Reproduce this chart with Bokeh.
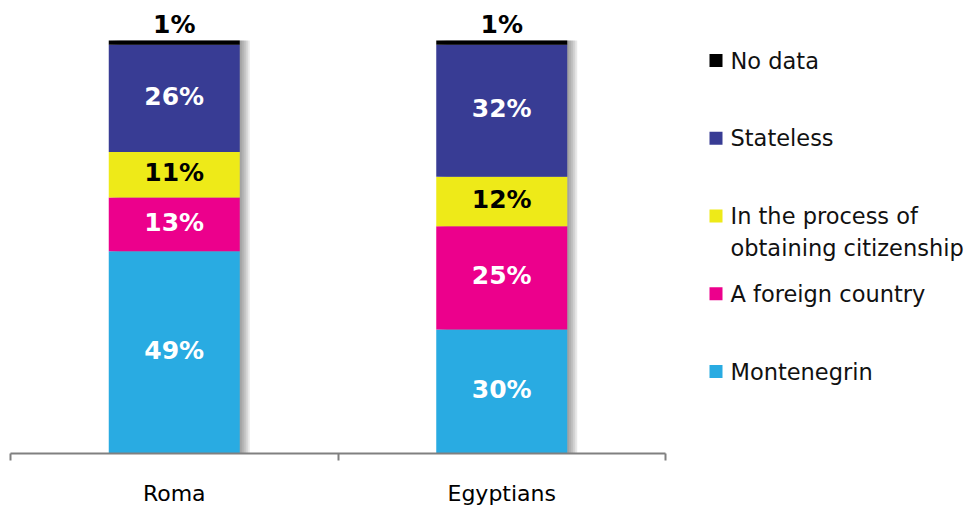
import numpy as np
from bokeh.plotting import figure
from bokeh.models import ColumnDataSource, Range1d, LinearAxis, FixedTicker
from bokeh.layouts import row
from bokeh.core.properties import value
from bokeh.embed import file_html
from bokeh.resources import INLINE

# ---------------- data ----------------
groups = ["Roma", "Egyptians"]
series_names = ["Montenegrin", "A foreign country",
                "In the process of\nobtaining citizenship", "Stateless", "No data"]
montenegrin = [49, 30]
foreign_country = [13, 25]
in_process = [11, 12]
stateless = [26, 32]
no_data = [1, 1]
series_values = [montenegrin, foreign_country, in_process, stateless, no_data]

# ---------------- style ----------------
colors = ["#29ABE2", "#EC008C", "#EEEA18", "#383C94", "#000000"]
label_colors = ["white", "white", "black", "white", "black"]
FONT = "DejaVu Sans"
TOP = 10
FRAME_W, FRAME_H = 655, 443
BAR_PX = 413          # pixel height of 100 %
BAR_W = 0.4

n = len(groups)
xpos = np.arange(n) + 0.5     # category centres on a 0..n index scale

p = figure(x_range=Range1d(0, n),
           y_range=Range1d(0, 100 * FRAME_H / BAR_PX),
           frame_width=FRAME_W, frame_height=FRAME_H,
           min_border_left=10, min_border_right=12, min_border_top=TOP, min_border_bottom=52,
           output_backend="svg", toolbar_location=None,
           x_axis_location=None, y_axis_location=None)
p.xgrid.grid_line_color = None
p.ygrid.grid_line_color = None
p.outline_line_color = None
p.background_fill_color = "white"
p.border_fill_color = "white"

# shadow behind the bars
total = np.sum(np.array(series_values, dtype=float), axis=0)
px = n / FRAME_W
for k in range(1, 6):
    shadow_src = ColumnDataSource(dict(x=xpos + 2.0 * k * px, top=total))
    p.vbar(x="x", top="top", bottom=0, width=BAR_W, source=shadow_src,
           fill_color="#404040", fill_alpha=0.12, line_color=None)

bottoms = np.zeros(n)
last = len(series_values) - 1
for i, (vals, col, lc) in enumerate(zip(series_values, colors, label_colors)):
    v = np.array(vals, dtype=float)
    tops = bottoms + v
    src = ColumnDataSource(dict(x=xpos, g=groups, bottom=bottoms.copy(), top=tops,
                                mid=(bottoms + tops) / 2,
                                lab=[f"{x:g}%" for x in v]))
    p.vbar(x="x", top="top", bottom="bottom", width=BAR_W, source=src,
           fill_color=col, line_color=None)
    if i == last:
        p.text(x="x", y="top", text="lab", source=src, text_align="center",
               text_baseline="bottom", y_offset=-2, text_color=lc,
               text_font=value(FONT), text_font_size=value("25px"),
               text_font_style="bold")
    else:
        p.text(x="x", y="mid", text="lab", source=src, text_align="center",
               text_baseline="middle", y_offset=-2, text_color=lc,
               text_font=value(FONT), text_font_size=value("25px"),
               text_font_style="bold")
    bottoms = tops

# category axis with boundary ticks
ax = LinearAxis(ticker=FixedTicker(ticks=list(xpos), minor_ticks=list(range(n + 1))),
                major_label_overrides={float(x): g for x, g in zip(xpos, groups)})
ax.axis_line_color = "#808080"
ax.axis_line_width = 2
ax.major_tick_line_color = None
ax.major_tick_out = 0
ax.major_tick_in = 0
ax.minor_tick_line_color = "#808080"
ax.minor_tick_line_width = 2
ax.minor_tick_out = 7
ax.minor_tick_in = 0
ax.major_label_standoff = 20
ax.major_label_text_font = FONT
ax.major_label_text_font_size = "22px"
ax.major_label_text_color = "black"
p.add_layout(ax, "below")

# ---------------- legend (y in page pixels; frame aligned with the chart frame) ----------------
LG_W = 290
lg = figure(frame_width=LG_W, frame_height=FRAME_H,
            x_range=Range1d(0, LG_W), y_range=Range1d(TOP + FRAME_H, TOP),
            min_border_left=0, min_border_right=0, min_border_top=TOP, min_border_bottom=52,
            output_backend="svg", toolbar_location=None,
            x_axis_location=None, y_axis_location=None)
lg.xgrid.grid_line_color = None
lg.ygrid.grid_line_color = None
lg.outline_line_color = None
lg.border_fill_color = "white"

leg_names = series_names[::-1]
leg_colors = colors[::-1]
LINE_PX = 32
sq_y = [60 + 77.75 * i for i in range(len(leg_names))]
txt_y = [y + (nm.count("\n")) * LINE_PX / 2 for y, nm in zip(sq_y, leg_names)]
lsrc = ColumnDataSource(dict(name=leg_names, color=leg_colors, sy=sq_y, ty=txt_y,
                             sx=[38.5] * len(leg_names), tx=[53] * len(leg_names)))
lg.rect(x="sx", y="sy", width=13, height=13, fill_color="color", line_color=None, source=lsrc)
lg.text(x="tx", y="ty", text="name", source=lsrc, text_baseline="middle",
        text_align="left", text_font=value(FONT), text_font_size=value("22.5px"),
        text_color="#111111", text_line_height=1.2)

layout = row(p, lg)
open("out.html", "w").write(file_html(layout, INLINE))
